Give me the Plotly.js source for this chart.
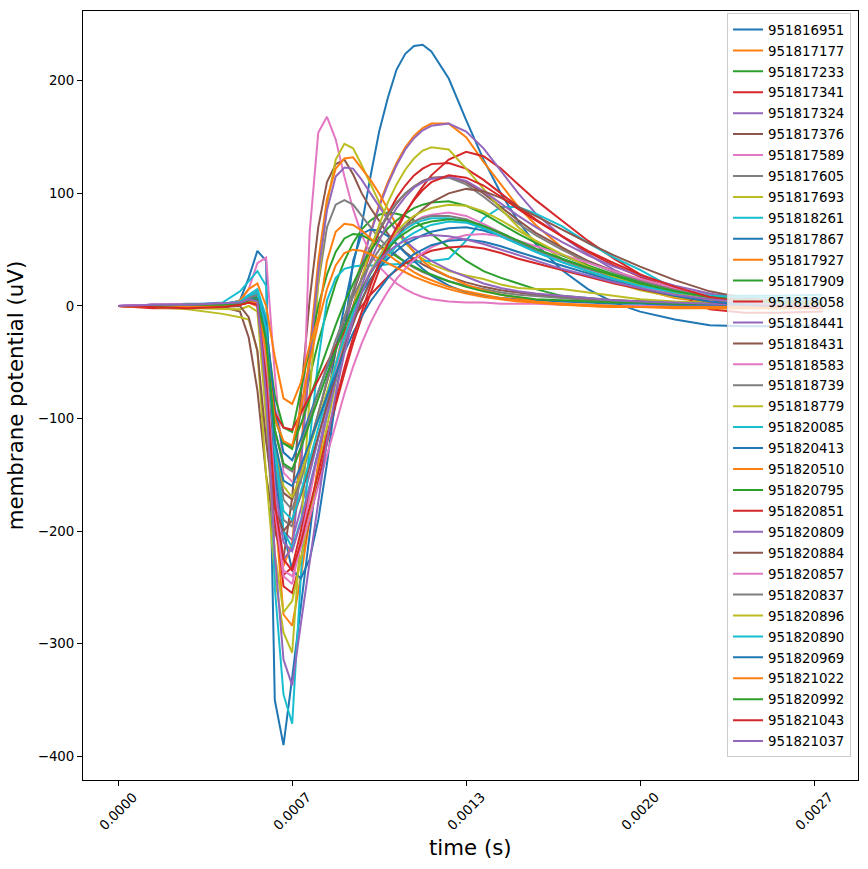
<!DOCTYPE html>
<html>
<head>
<meta charset="utf-8">
<script src="https://cdn.plot.ly/plotly-3.0.1.min.js"></script>
<style>html,body{margin:0;padding:0;background:#fff;}#chart{width:868px;height:869px;}</style>
</head>
<body>
<div id="chart"></div>
<script>
// sampling: 30 kHz, sample indices at which the waveforms were read
const FS = 30000;
const SAMPLE_IDX = [0,4,8,12,14,15,16,17,18,19,20,21,22,23,24,25,26,27,28,29,30,31,32,33,34,35,36,38,40,42,44,46,48,51,54,57,60,64,68,72,76,81];

const UNIT_IDS = ['951816951','951817177','951817233','951817341','951817324','951817376','951817589','951817605','951817693','951818261','951817867','951817927','951817909','951818058','951818441','951818431','951818583','951818739','951818779','951820085','951820413','951820510','951820795','951820851','951820809','951820884','951820857','951820837','951820896','951820890','951820969','951821022','951820992','951821043','951821037'];

const COLORS = ['#1f77b4','#ff7f0e','#2ca02c','#d62728','#9467bd','#8c564b','#e377c2','#7f7f7f','#bcbd22','#17becf'];

// membrane potential (uV) per unit
const u01 = [0,1,0,1, 5,25,49,40,-350,-390,-330,-265,-200,-140,-85,-40,0,35,72,115,155,185,210,224,231,232,226, 202,165,130,100,75,55, 32,15,3,-5, -12,-17,-18,-18,-17];
const u02 = [0,-1,-1,0, 2,5,3,-60,-180,-274,-284,-240,-190,-140,-95,-55,-20,12,40,66,90,110,127,141,151,158,162, 162,150,128,108,88,72, 52,36,24,15, 7,3,1,0,0];
const u03 = [0,0,1,1, 3,6,5,-40,-95,-122,-127,-95,-62,-32,-5,20,40,56,68,76,81,83,82,80,76,70,64, 52,40,31,25,20,15, 9,7,5,4, 3,3,2,2,2];
const u04 = [0,-2,-2,-1, 1,3,0,-70,-180,-249,-255,-225,-190,-155,-120,-88,-60,-33,-10,12,32,50,67,82,95,106,116, 130,137,133,122,108,94, 76,58,42,28, 12,-3,-6,-6,-5];
const u05 = [0,1,2,2, 3,6,4,-50,-150,-200,-208,-180,-150,-118,-85,-52,-20,10,38,64,88,108,125,139,149,156,160, 162,155,140,120,100,82, 62,46,32,22, 12,3,0,-1,0];
const u06 = [0,0,0,-1, -5,-28,-75,-150,-200,-224,-170,-80,5,70,110,126,130,117,100,87,75,64,55,48,42,37,33, 26,21,17,14,12,10, 8,6,5,4, 3,2,2,1,1];
const u07 = [0,1,1,2, 4,15,38,43,-60,-148,-156,-157,65,154,168,148,115,86,63,47,35,27,20,15,11,8,6, 4,3,3,2,2,2, 1,1,0,0, 0,0,0,0,0];
const u08 = [0,0,1,1, 3,8,12,-40,-140,-190,-196,-130,-50,20,70,90,94,90,80,70,60,52,45,39,34,30,27, 22,18,15,12,10,9, 7,5,4,3, 2,2,1,1,1];
const u09 = [0,-1,-3,-7, -10,-12,-40,-150,-240,-290,-308,-200,-80,20,90,130,144,140,125,108,92,78,66,56,48,42,37, 31,27,24,19,16,15, 15,12,9,6, 4,3,2,2,1];
const u10 = [0,0,1,3, 13,22,31,18,-250,-345,-371,-240,-120,-48,5,25,33,35,36,36,36,37,37,38,39,40,40, 42,58,78,88,88,82, 71,56,43,32, 15,10,9,9,10];
const u11 = [0,0,0,1, 2,5,8,-30,-150,-200,-235,-242,-225,-190,-140,-82,-25,40,64,68,67,62,55,47,40,33,27, 18,12,9,7,6,5, 4,3,2,2, 1,1,1,0,0];
const u12 = [0,-1,-1,0, 2,4,0,-80,-180,-231,-210,-130,-40,40,95,122,131,132,122,112,100,86,72,58,48,40,34, 26,19,14,10,7,4, 2,0,-1,-1, -1,-2,-2,-2,-2];
const u13 = [0,0,1,1, 3,6,8,-20,-80,-108,-112,-75,-35,0,28,48,60,64,63,59,54,49,44,39,35,31,28, 22,17,13,10,8,6, 5,4,3,3, 2,2,1,1,1];
const u14 = [0,-1,-2,-1, 1,4,2,-70,-190,-239,-232,-200,-165,-128,-92,-58,-28,0,25,47,66,82,96,107,116,122,126, 127,122,112,100,88,77, 62,48,36,26, 15,7,3,1,0];
const u15 = [0,1,1,2, 3,6,4,-60,-170,-225,-215,-140,-50,30,85,115,123,122,112,100,88,77,67,58,51,45,40, 32,26,20,16,13,11, 9,7,5,4, 3,2,1,1,1];
const u16 = [0,0,-1,0, 2,4,2,-50,-130,-166,-172,-150,-123,-95,-66,-38,-12,12,33,51,67,80,91,100,106,111,114, 115,110,100,88,76,65, 52,40,31,23, 15,9,5,3,2];
const u17 = [0,1,1,1, 2,4,2,-60,-180,-240,-247,-210,-170,-130,-92,-58,-30,-5,15,31,44,55,63,70,75,79,81, 83,80,73,65,57,50, 41,33,26,20, 13,8,4,2,1];
const u18 = [0,0,1,1, 3,8,13,-20,-120,-172,-181,-155,-125,-95,-65,-36,-10,14,35,53,68,81,92,100,106,110,113, 114,108,97,85,73,63, 50,39,30,22, 14,8,5,3,2];
const u19 = [0,-1,-2,-3, -3,0,-5,-100,-220,-272,-262,-225,-185,-145,-105,-68,-33,-2,25,50,72,92,108,121,131,138,141, 139,122,104,86,70,57, 42,30,21,14, 8,4,2,1,1];
const u20 = [0,0,1,2, 4,10,15,-10,-120,-200,-215,-190,-160,-128,-96,-66,-38,-14,6,22,35,45,53,60,65,69,72, 75,74,69,62,55,48, 39,31,24,18, 12,8,6,5,5];
const u21 = [0,0,0,1, 2,6,10,-15,-90,-130,-137,-118,-97,-76,-55,-36,-18,-2,12,24,34,42,49,55,59,63,66, 69,70,67,62,56,50, 42,34,27,20, 12,6,2,0,-1];
const u22 = [0,0,-1,0, 5,15,20,0,-45,-82,-87,-68,-35,-10,40,66,73,72,67,60,53,46,40,35,30,26,23, 17,13,10,7,5,3, 2,1,0,-1, -1,-1,-1,-1,-1];
const u23 = [0,0,1,1, 2,5,4,-40,-100,-122,-125,-105,-82,-60,-38,-17,3,20,36,49,60,69,76,82,87,90,92, 93,89,82,73,64,56, 45,36,28,21, 13,8,5,3,2];
const u24 = [0,-1,-1,0, 1,3,2,-40,-95,-108,-110,-95,-80,-65,-50,-36,-23,-11,0,10,18,26,32,38,42,46,49, 52,53,51,47,42,38, 32,26,20,15, 9,4,1,-1,-2];
const u25 = [0,1,1,2, 3,5,3,-60,-160,-210,-218,-192,-162,-130,-97,-65,-35,-7,18,40,58,74,87,97,105,110,113, 115,111,102,91,80,70, 57,45,35,27, 18,11,6,3,2];
const u26 = [0,0,-1,-1, 0,-10,-40,-120,-180,-200,-190,-168,-142,-115,-88,-62,-37,-15,5,22,37,50,61,71,79,86,92, 100,104,102,96,88,80, 68,56,45,35, 23,13,7,4,3];
const u27 = [0,1,1,1, 2,4,3,-50,-170,-235,-240,-215,-188,-160,-132,-104,-78,-54,-33,-15,0,13,24,33,41,47,52, 59,63,64,62,58,53, 46,38,31,24, 16,9,5,3,2];
const u28 = [0,0,1,1, 3,7,10,-25,-110,-142,-147,-125,-100,-76,-52,-30,-10,8,24,38,50,59,66,71,75,78,80, 80,77,71,64,57,50, 41,33,26,20, 13,8,5,3,2];
const u29 = [0,0,0,1, 2,5,4,-40,-120,-160,-170,-150,-125,-100,-75,-50,-27,-6,13,30,44,56,66,74,80,84,87, 90,89,84,76,67,58, 46,35,26,19, 11,6,3,2,1];
const u30 = [0,0,1,2, 4,9,12,-20,-130,-182,-190,-165,-137,-108,-80,-53,-28,-6,13,29,42,53,61,68,73,76,78, 78,75,69,62,55,48, 39,31,24,18, 12,9,8,7,7];
const u31 = [0,0,0,1, 2,5,6,-30,-120,-155,-160,-142,-122,-101,-80,-60,-41,-24,-9,4,15,25,33,40,46,50,54, 58,59,57,53,48,43, 36,29,22,16, 9,4,1,0,-1];
const u32 = [0,-1,-1,0, 1,4,3,-40,-100,-120,-124,-90,-50,-15,15,36,47,50,49,46,42,38,34,30,26,23,20, 15,11,8,6,4,3, 1,0,-1,-1, -2,-2,-2,-2,-2];
const u33 = [0,0,1,1, 2,5,5,-30,-110,-140,-145,-126,-104,-82,-60,-39,-19,-1,15,29,41,51,59,65,70,73,75, 77,76,71,65,58,51, 42,34,27,20, 13,8,5,3,2];
const u34 = [0,-1,-2,-1, 1,3,1,-65,-175,-225,-235,-210,-180,-148,-115,-84,-55,-28,-4,18,38,55,70,83,94,103,110, 116,114,107,97,86,76, 62,49,38,28, 17,8,3,0,-2];
const u35 = [0,1,1,2, 3,6,4,-80,-220,-314,-337,-282,-227,-172,-120,-78,-42,-12,12,30,40,48,54,58,61,62,63, 62,59,55,50,45,40, 33,27,21,16, 10,6,3,1,0];

const SERIES = [u01,u02,u03,u04,u05,u06,u07,u08,u09,u10,u11,u12,u13,u14,u15,u16,u17,u18,u19,u20,u21,u22,u23,u24,u25,u26,u27,u28,u29,u30,u31,u32,u33,u34,u35];

// x-axis ticks (sample indices) and their labels
const TICK_IDX = [0,20,40,60,80];
const TICK_LABELS = ['0.0000','0.0007','0.0013','0.0020','0.0027'];
const Y_TICKS = [-400,-300,-200,-100,0,100,200];

const FONT = 'DejaVu Sans, Liberation Sans, sans-serif';
const time = SAMPLE_IDX.map(i => i / FS);
const tEnd = 81 / FS;

const traces = SERIES.map((v, k) => ({
  type: 'scatter', mode: 'lines',
  x: time, y: v,
  name: UNIT_IDS[k], legendgroup: UNIT_IDS[k],
  line: {color: COLORS[k % 10], width: 2}
}));

// rotated x tick labels, centred under their ticks (matplotlib style)
const tickAnnotations = TICK_IDX.map((i, k) => ({
  xref: 'x', yref: 'paper', x: i / FS, y: -0.041,
  text: TICK_LABELS[k], textangle: -45, showarrow: false,
  xanchor: 'center', yanchor: 'middle',
  font: {family: FONT, size: 13.33, color: '#000'}
}));

const layout = {
  width: 868, height: 869,
  margin: {l: 83, r: 10, t: 11, b: 89},
  paper_bgcolor: '#ffffff', plot_bgcolor: '#ffffff',
  font: {family: FONT, color: '#000000', size: 13.33},
  showlegend: true,
  xaxis: {
    range: [-0.05 * tEnd, 1.05 * tEnd],
    tickvals: TICK_IDX.map(i => i / FS),
    showticklabels: false,
    ticks: 'outside', ticklen: 5, tickwidth: 1, tickcolor: '#000',
    showline: true, mirror: true, linecolor: '#000', linewidth: 1,
    showgrid: false, zeroline: false
  },
  yaxis: {
    range: [-421, 262],
    tickvals: Y_TICKS,
    ticks: 'outside', ticklen: 5, tickwidth: 1, tickcolor: '#000',
    showline: true, mirror: true, linecolor: '#000', linewidth: 1,
    showgrid: false, zeroline: false,
    tickfont: {family: FONT, size: 13.33, color: '#000'},
    title: {text: 'membrane potential (uV)', font: {family: FONT, size: 21.3, color: '#000'}, standoff: 8}
  },
  annotations: tickAnnotations.concat([{
    xref: 'paper', yref: 'paper', x: 0.5, y: -0.0884,
    text: 'time (s)', showarrow: false, xanchor: 'center', yanchor: 'middle',
    font: {family: FONT, size: 21.3, color: '#000'}
  }]),
  legend: {
    x: 0.991, y: 0.997, xanchor: 'right', yanchor: 'top',
    bgcolor: 'rgba(255,255,255,0.8)', bordercolor: '#cccccc', borderwidth: 1,
    font: {family: FONT, size: 13.33, color: '#000'},
    tracegroupgap: 0.6
  }
};

Plotly.newPlot('chart', traces, layout, {displayModeBar: false, staticPlot: true});
</script>
</body>
</html>
